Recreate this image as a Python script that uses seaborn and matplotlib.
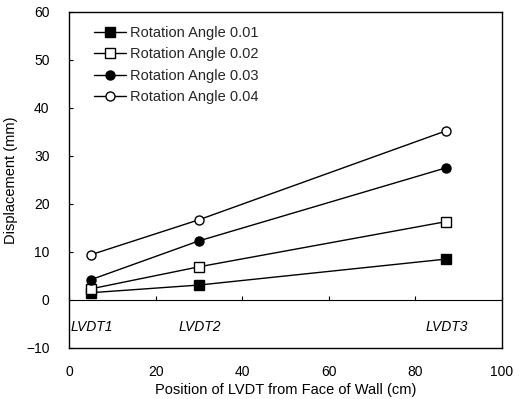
import matplotlib
matplotlib.use("Agg")
import matplotlib.pyplot as plt
import seaborn as sns
import pandas as pd

# LVDT positions (cm from wall face) and measured displacements (mm)
positions = [5, 30, 87]
lvdt_names = ["LVDT1", "LVDT2", "LVDT3"]
series_names = ["Rotation Angle 0.01", "Rotation Angle 0.02",
                "Rotation Angle 0.03", "Rotation Angle 0.04"]
disp_001 = [1.5, 3.1, 8.5]
disp_002 = [2.3, 6.9, 16.3]
disp_003 = [4.2, 12.3, 27.5]
disp_004 = [9.4, 16.7, 35.2]
x_ticks = [0, 20, 40, 60, 80, 100]
y_ticks = [-10, 0, 10, 20, 30, 40, 50, 60]

sns.set_theme(style="white")
plt.rcParams["font.family"] = ["Liberation Sans", "DejaVu Sans"]

rows = []
for name, vals in zip(series_names, [disp_001, disp_002, disp_003, disp_004]):
    for p, v in zip(positions, vals):
        rows.append({"Position": p, "Displacement": v, "Series": name})
df = pd.DataFrame(rows)

fig = plt.figure(figsize=(5.19, 3.99), dpi=100)
ax = fig.add_axes([0.133, 0.128, 0.834, 0.842])

markers = {"Rotation Angle 0.01": ("s", "black"),
           "Rotation Angle 0.02": ("s", "white"),
           "Rotation Angle 0.03": ("o", "black"),
           "Rotation Angle 0.04": ("o", "white")}
for name in series_names:
    m, fc = markers[name]
    sns.lineplot(data=df[df["Series"] == name], x="Position", y="Displacement",
                 ax=ax, color="black", lw=1.0, marker=m, markersize=6.5,
                 markerfacecolor=fc, markeredgecolor="black",
                 markeredgewidth=1.0, label=name)

ax.set_xlim(0, 100)
ax.set_ylim(-10, 60)
ax.set_xticks(x_ticks)
ax.set_yticks(y_ticks)
ax.set_yticklabels(["\u221210" if t < 0 else str(t) for t in y_ticks])
ax.tick_params(axis="x", length=0, labelsize=10, pad=12, colors="black")
ax.tick_params(axis="y", direction="in", length=3, width=0.8, left=True,
               labelsize=10, pad=14, colors="black")
for s in ax.spines.values():
    s.set_color("black")
    s.set_linewidth(1.0)

# zero line carrying the x tick marks
sec = ax.secondary_xaxis(10 / 70)
sec.set_xticks(x_ticks)
sec.tick_params(axis="x", direction="in", length=3, width=0.8, labelbottom=False,
                bottom=True, colors="black")
sec.spines["bottom"].set_color("black")
sec.spines["bottom"].set_linewidth(0.8)

for name, p in zip(lvdt_names, positions):
    ax.text(p + 0.3, -5.6, name, ha="center", va="center", fontsize=10,
            style="italic", color="black")

ax.set_xlabel("Position of LVDT from Face of Wall (cm)", fontsize=10.5,
              color="black", labelpad=3)
ax.set_ylabel("Displacement (mm)", fontsize=10.5, color="black", labelpad=6)

leg = ax.legend(loc="upper left", bbox_to_anchor=(0.045, 0.975), frameon=False,
                fontsize=10.5, handlelength=2.2, handletextpad=0.25,
                labelspacing=0.5, borderaxespad=0)

fig.savefig("out.png", dpi=100)
